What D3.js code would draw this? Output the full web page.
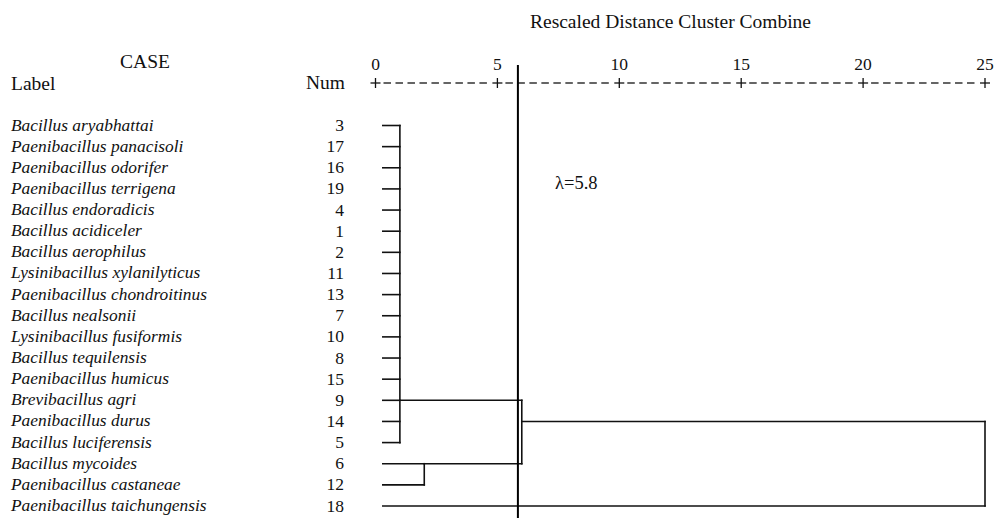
<!DOCTYPE html>
<html>
<head>
<meta charset="utf-8">
<script src="https://cdn.jsdelivr.net/npm/d3@7"></script>
<style>
  body { margin: 0; background: #fff; }
  svg text { font-family: "Times New Roman", "Liberation Serif", Times, "DejaVu Serif", serif; fill: #111; }
</style>
</head>
<body>
<div id="chartArea"></div>
<script>
// case labels, top to bottom, as listed in the dendrogram
let labels = [
   "Bacillus aryabhattai", "Paenibacillus panacisoli", "Paenibacillus odorifer",
   "Paenibacillus terrigena", "Bacillus endoradicis", "Bacillus acidiceler",
   "Bacillus aerophilus", "Lysinibacillus xylanilyticus", "Paenibacillus chondroitinus",
   "Bacillus nealsonii", "Lysinibacillus fusiformis", "Bacillus tequilensis",
   "Paenibacillus humicus", "Brevibacillus agri", "Paenibacillus durus",
   "Bacillus luciferensis", "Bacillus mycoides", "Paenibacillus castaneae",
   "Paenibacillus taichungensis"
];
let caseNums = [3, 17, 16, 19, 4, 1, 2, 11, 13, 7, 10, 8, 15, 9, 14, 5, 6, 12, 18];

// merges: children are row indices (leaves) or "mN" (earlier merge)
let mergeChildren = [
   d3.range(0, 16),
   [16, 17],
   ["m0", "m1"],
   ["m2", 18]
];
let mergeDist = [1, 2, 6, 25];
let mergeRow = [13, 16, 14, null];

let axisTicks = [0, 5, 10, 15, 20, 25];
let leafStart = 0.3;
let lambda = 5.8;

const W = 997, H = 518;
let svg = d3.select('#chartArea').append('svg')
   .attr('width', W).attr('height', H);

let x = d3.scaleLinear().domain([0, 25]).range([375.5, 985]);
let y = d3.scaleLinear().domain([0, 18]).range([125.5, 506]);

// headers
svg.append("text").attr("x", 670.5).attr("y", 28).attr("text-anchor", "middle")
   .style("font-size", "19.5px").text("Rescaled Distance Cluster Combine");
svg.append("text").attr("x", 145).attr("y", 68).attr("text-anchor", "middle")
   .style("font-size", "19.5px").text("CASE");
svg.append("text").attr("x", 11).attr("y", 90)
   .style("font-size", "19.5px").text("Label");
svg.append("text").attr("x", 345).attr("y", 89).attr("text-anchor", "end")
   .style("font-size", "19.5px").text("Num");

// axis: tick numbers, pluses and dashes
let axY = 83;
svg.selectAll("text.tick").data(axisTicks).enter().append("text")
   .attr("class", "tick")
   .attr("x", d => x(d)).attr("y", 70).attr("text-anchor", "middle")
   .style("font-size", "17.5px").text(d => d);

let plus = svg.selectAll("g.plus").data(axisTicks).enter().append("g")
   .attr("class", "plus")
   .attr("transform", d => `translate(${x(d)},${axY})`);
plus.append("line").attr("x1", -5).attr("x2", 5).attr("y1", 0).attr("y2", 0);
plus.append("line").attr("x1", 0).attr("x2", 0).attr("y1", -5).attr("y2", 5);
plus.selectAll("line").attr("stroke", "#111").attr("stroke-width", 1.3);

let dashes = [];
axisTicks.slice(0, -1).forEach(t => {
   for (let k = 0; k < 9; k++) dashes.push({ t: t, k: k });
});
svg.selectAll("line.dash").data(dashes).enter().append("line")
   .attr("class", "dash")
   .attr("x1", d => {
      let a = x(d.t) + 7, b = x(d.t + 5) - 7, step = (b - a) / 9;
      return a + step * d.k + 1;
   })
   .attr("x2", d => {
      let a = x(d.t) + 7, b = x(d.t + 5) - 7, step = (b - a) / 9;
      return a + step * (d.k + 1) - 3.5;
   })
   .attr("y1", axY).attr("y2", axY)
   .attr("stroke", "#111").attr("stroke-width", 1.3);

// case labels and numbers
svg.selectAll("text.lab").data(labels).enter().append("text")
   .attr("class", "lab")
   .attr("x", 11).attr("y", (d, i) => y(i) + 5)
   .style("font-size", "17.4px").style("font-style", "italic").text(d => d);
svg.selectAll("text.num").data(caseNums).enter().append("text")
   .attr("class", "num")
   .attr("x", 344).attr("y", (d, i) => y(i) + 5.5).attr("text-anchor", "end")
   .style("font-size", "17.5px").text(d => d);

// dendrogram segments
let segs = [];
mergeChildren.forEach((kids, m) => {
   let rows = [];
   kids.forEach(c => {
      let fromD, row;
      if (typeof c === "string") {
         let j = +c.slice(1);
         fromD = mergeDist[j]; row = mergeRow[j];
      } else {
         fromD = leafStart; row = c;
      }
      rows.push(row);
      segs.push({ x1: x(fromD), x2: x(mergeDist[m]), y1: y(row), y2: y(row) });
   });
   segs.push({
      x1: x(mergeDist[m]), x2: x(mergeDist[m]),
      y1: y(d3.min(rows)), y2: y(d3.max(rows))
   });
});
svg.selectAll("line.seg").data(segs).enter().append("line")
   .attr("class", "seg")
   .attr("x1", d => d.x1).attr("x2", d => d.x2)
   .attr("y1", d => d.y1).attr("y2", d => d.y2)
   .attr("stroke", "#111").attr("stroke-width", 1.6)
   .attr("stroke-linecap", "square");

// cut line
svg.append("line")
   .attr("x1", x(lambda) + 1).attr("x2", x(lambda) + 1).attr("y1", 65).attr("y2", H)
   .attr("stroke", "#000").attr("stroke-width", 2);
svg.append("text").attr("x", 555).attr("y", 189)
   .style("font-size", "18.5px").text("λ=" + lambda);
</script>
</body>
</html>
